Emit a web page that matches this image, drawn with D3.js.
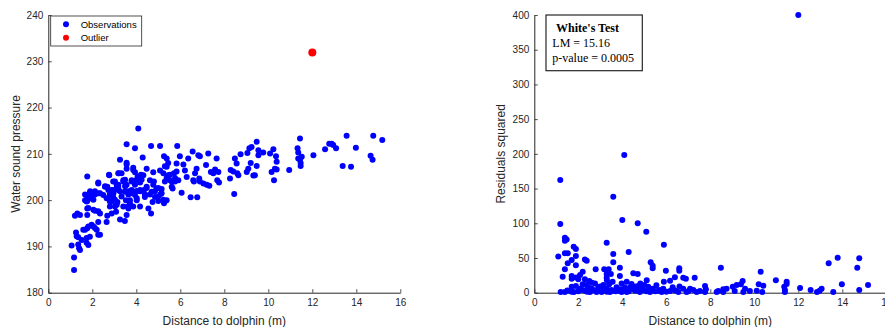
<!DOCTYPE html>
<html><head><meta charset="utf-8">
<script src="https://cdn.jsdelivr.net/npm/d3@7"></script>
<style>
html,body{margin:0;padding:0;background:#fff;}
svg{display:block;}
.tick text{font-family:"Liberation Sans",Arial,sans-serif;font-size:10px;fill:#262626;}
</style></head>
<body><svg id="c" width="885" height="327"></svg>
<script>
// Left panel: observations (distance m, water sound pressure)
const obsX = [1.17,1.17,1.06,1.44,1.40,1.21,1.32,1.44,1.26,1.36,1.52,1.74,1.82,1.89,1.67,1.77,2.05,2.20,2.27,2.35,2.27,2.35,2.12,1.77,1.77,1.67,1.77,1.82,1.89,1.77,2.05,2.05,2.27,2.27,2.50,2.58,2.68,2.77,2.65,2.68,2.88,2.80,2.80,2.95,2.95,3.03,3.03,3.08,3.14,3.18,3.18,3.26,3.26,3.48,3.33,3.41,3.48,3.53,3.56,3.56,3.56,3.56,3.61,3.64,3.56,3.71,3.79,3.79,3.86,3.86,3.94,3.94,4.02,4.02,4.06,4.09,4.17,4.17,4.29,4.32,4.35,4.39,4.47,4.47,4.55,4.62,4.67,4.67,4.70,4.74,4.77,4.80,4.85,4.92,5.00,5.08,5.08,5.11,5.15,5.23,5.26,5.23,5.26,5.30,5.38,5.38,5.38,5.45,5.53,5.61,5.65,5.71,5.76,5.83,5.86,5.91,5.98,6.06,6.14,6.21,6.29,6.36,6.47,6.56,6.59,6.62,6.67,6.74,6.77,6.82,6.86,6.89,6.89,7.05,7.17,7.20,7.27,7.32,7.39,7.50,7.58,7.65,7.68,7.73,7.76,8.26,8.29,8.41,8.45,8.48,8.56,8.59,8.64,8.74,9.02,9.05,9.09,9.14,9.20,9.24,9.32,9.39,9.47,9.47,9.55,9.55,9.77,10.08,10.15,10.23,10.26,10.30,10.35,10.38,10.38,10.95,11.33,11.36,11.36,11.44,11.44,11.47,11.47,11.52,12.05,12.58,12.77,12.88,12.95,13.08,13.38,13.56,13.76,13.98,14.65,14.74,14.77,15.18,
2.65,2.80,2.88,3.03,2.96,3.18,3.11,3.33,3.41,3.49,3.64,3.71,3.79,3.94,4.02,4.17,4.24,4.39,4.47,4.62,4.77,4.85,5.00,5.00,5.15,5.38,5.53,5.61,5.76,5.83,5.30,5.45,3.41,3.18,3.11,2.73,2.35,2.12,1.90,1.74,1.82,2.05,2.27,1.97,2.12,1.82,1.59,1.74,1.36,1.29,
3.56,3.86,3.21,2.76,3.94,4.21,2.27,2.95,3.49,3.79,4.02,2.58,1.90,2.12,1.67,1.74,2.88,3.11,3.26,3.64,4.17,2.88,2.80];
const obsY = [184.9,187.6,190.2,189.2,189.6,196.6,197.1,196.8,193.0,192.0,191.4,190.8,190.3,192.1,193.6,193.9,194.3,193.6,192.5,192.5,195.3,197.1,197.7,198.2,196.8,200.0,199.8,201.1,201.5,205.1,200.1,201.1,201.5,203.6,201.1,202.9,202.9,205.4,195.3,196.6,197.1,198.6,200.0,200.7,202.2,204.0,198.6,197.5,199.6,202.9,205.8,208.7,195.8,195.5,205.8,204.3,201.8,200.0,203.3,206.8,207.7,212.1,198.6,198.2,196.8,200.0,201.5,204.3,206.5,198.6,201.1,211.2,200.0,202.0,205.1,215.5,198.6,203.8,209.2,205.4,202.2,200.7,206.8,202.9,198.2,204.3,211.7,197.1,201.8,199.6,206.0,204.0,200.7,202.5,199.8,211.7,206.4,201.3,202.4,200.1,199.3,205.8,209.5,204.0,209.0,207.2,200.0,205.4,204.3,202.9,202.5,205.8,204.0,207.9,211.7,204.3,209.5,201.6,207.7,206.4,205.0,209.0,200.6,210.5,204.3,204.0,205.8,206.8,200.6,209.7,204.7,204.0,209.5,203.6,207.6,203.3,210.1,203.1,206.1,205.8,206.6,209.0,204.3,206.1,203.8,204.7,206.5,206.2,201.3,209.0,207.9,205.8,205.4,209.9,206.1,210.2,206.8,211.2,208.0,211.5,205.3,205.4,212.6,207.4,210.8,209.7,210.3,210.1,206.1,211.0,204.3,206.8,209.5,208.3,206.6,206.5,211.2,210.3,209.0,213.3,208.7,208.0,207.4,209.4,209.7,211.0,212.2,212.2,211.9,211.2,207.4,213.9,207.2,211.3,209.6,208.7,213.9,213.0,
200.4,201.2,199.7,200.1,201.5,202.2,199.0,200.8,198.6,203.0,201.2,199.4,202.2,203.3,200.4,202.2,204.4,201.2,202.6,201.2,203.3,201.9,200.8,202.6,201.5,204.8,205.5,204.0,204.8,206.2,207.3,208.0,204.0,203.3,203.3,202.2,201.5,201.2,200.4,199.7,198.3,197.9,197.6,194.7,194.0,194.3,193.6,191.8,190.4,192.2,
208.1,207.0,205.8,205.5,206.0,205.5,203.8,204.0,204.4,204.0,204.4,203.0,201.9,201.9,201.2,200.1,202.2,202.6,201.9,201.9,201.9,200.8,199.7];
const outlierX = [12.0];
const outlierY = [231.9];

// Right panel: squared residuals
const resX = [12.0,4.09,1.18,3.59,4.0,4.7,1.18,5.09,3.29,5.89,1.39,1.47,1.39,1.79,1.89,3.59,4.29,1.09,1.39,1.52,1.89,1.7,2.3,2.38,1.52,1.89,3.59,5.29,5.38,5.38,13.79,14.77,13.38,14.68,8.48,1.39,2.79,3.18,3.89,3.38,5.98,6.59,6.59,10.29,2.2,3.29,3.48,4.5,4.7,1.7,1.29,2.08,3.89,3.29,6.39,6.77,6.89,7.29,10.98,5.11,2.3,1.7,2.0,5.89,6.17,2.62,3.56,4.2,9.47,11.47,11.47,13.98,15.17,10.2,10.41,9.2,9.39,9.02,11.36,12.08,13.06,12.56,12.97,12.85,13.59,14.77,11.39,11.39,10.11,9.8,8.74,8.59,8.36,8.29,7.76,7.8,7.53,7.23,7.08,6.77,6.55,6.29,5.86,5.64,5.38,5.18,4.95,4.73,4.58,4.35,4.12,3.97,3.74,3.52,3.29,3.06,2.91,2.68,2.45,2.3,2.08,1.89,1.8,1.62,1.39,1.2,2.38,2.76,3.14,3.97,4.42,4.82,5.55,1.7,2.53,2.83,3.44,3.82,4.2,4.8,5.26,5.79,6.17,6.92,7.38,7.76,8.59,9.11,9.5,9.58,10.36,
1.5,1.7,2.0,2.2,2.4,2.6,2.9,3.1,3.3,3.5,3.7,3.9,4.1,4.3,4.5,4.7,4.9,5.1,5.3,5.5,5.7,6.0,6.4,6.6,7.0,2.2,3.0,3.4,4.6,5.0,1.9,2.5,3.3];
const resY = [400,198.3,162.3,138.3,104.7,99.9,98.9,87.9,72.0,69.2,79.2,76.8,74.9,66.3,62.9,55.7,58.6,52.3,56.7,56.7,52.8,47.1,48.0,46.1,42.3,39.4,43.7,43.7,38.9,35.1,50.4,49.5,42.3,36.0,36.0,33.6,33.6,33.6,36.0,33.6,31.7,35.1,31.7,30.3,30.3,26.9,26.9,27.9,26.9,24.0,23.0,25.5,24.0,21.6,22.1,21.6,20.2,21.6,17.8,17.8,19.2,20.2,19.2,15.8,17.3,14.4,15.8,15.8,16.8,15.8,12.5,12.0,11.0,12.0,10.1,11.0,12.0,8.6,8.6,6.7,5.8,3.8,2.9,1.0,1.0,3.8,3.8,1.0,2.9,2.4,5.8,4.8,2.4,1.0,9.6,4.8,2.4,3.8,5.8,5.8,1.0,7.7,5.8,2.9,5.8,8.6,3.8,9.6,2.9,7.7,3.8,1.0,7.7,2.9,5.8,1.0,7.7,3.8,7.7,2.9,5.8,9.6,1.0,2.9,1.0,1.0,11.0,13.4,11.0,13.4,12.5,13.4,10.6,8.6,1.0,1.0,1.0,2.9,1.0,1.0,1.0,1.0,2.4,1.0,1.0,1.0,1.0,2.4,1.0,5.8,1.0,
3,1.5,2,4,1.5,6,3,5,1.5,4,2,5,8,2,5,3,6,2,4,2,4,1.5,3,9,2,12,9,12,9,11,22,17,18];

const xTicks = [0,2,4,6,8,10,12,14,16];
const yTicksL = [180,190,200,210,220,230,240];
const yTicksR = [0,50,100,150,200,250,300,350,400];
const legendLabels = ["Observations","Outlier"];
const boxLines = ["White's Test","LM = 15.16","p-value = 0.0005"];

const svg = d3.select("#c");
const AX = "#262626";
const plotTop = 15, plotBottom = 292.7;

function panel(x0, yDomain, yTicks, ylabel, ylabX) {
  const x = d3.scaleLinear().domain([0,16]).range([x0, x0 + 352]);
  const y = d3.scaleLinear().domain(yDomain).range([plotBottom, plotTop]);
  const gx = svg.append("g").attr("transform", `translate(0,${plotBottom})`)
    .call(d3.axisBottom(x).tickValues(xTicks).tickSizeInner(-3.5).tickSizeOuter(0).tickPadding(6.5));
  const gy = svg.append("g").attr("transform", `translate(${x0},0)`)
    .call(d3.axisLeft(y).tickValues(yTicks).tickSizeInner(-3.5).tickSizeOuter(0).tickPadding(5));
  [gx, gy].forEach(g => {
    g.select(".domain").attr("stroke", AX).attr("stroke-width", 1);
    g.selectAll(".tick line").attr("stroke", AX).attr("stroke-width", 0.8);
  });
  svg.append("text").attr("x", x0 + 176).attr("y", 324.5).attr("text-anchor", "middle")
    .attr("font-family", "Liberation Sans, Arial, sans-serif").attr("font-size", 12).attr("fill", AX)
    .text("Distance to dolphin (m)");
  svg.append("text").attr("transform", `translate(${ylabX},${(plotTop+plotBottom)/2}) rotate(-90)`)
    .attr("text-anchor", "middle")
    .attr("font-family", "Liberation Sans, Arial, sans-serif").attr("font-size", 12).attr("fill", AX)
    .text(ylabel);
  return {x, y};
}

// Left panel
const L = panel(48.3, [180,240], yTicksL, "Water sound pressure", 19.5);
svg.append("g").selectAll("circle").data(d3.range(obsX.length)).join("circle")
  .attr("cx", i => L.x(obsX[i])).attr("cy", i => L.y(obsY[i])).attr("r", 3).attr("fill", "#0000ff");
svg.append("g").selectAll("circle").data(d3.range(outlierX.length)).join("circle")
  .attr("cx", i => L.x(outlierX[i])).attr("cy", i => L.y(outlierY[i])).attr("r", 4).attr("fill", "#ff0000");

// Legend
const lg = svg.append("g");
lg.append("rect").attr("x", 50.7).attr("y", 16).attr("width", 91).attr("height", 30)
  .attr("fill", "#fff").attr("stroke", AX).attr("stroke-width", 0.8);
const legColors = ["#0000ff", "#ff0000"];
legendLabels.forEach((t, i) => {
  const yy = 24.3 + i * 13.4;
  lg.append("circle").attr("cx", 66).attr("cy", yy).attr("r", 3).attr("fill", legColors[i]);
  lg.append("text").attr("x", 80.7).attr("y", yy + 3.3)
    .attr("font-family", "Liberation Sans, Arial, sans-serif").attr("font-size", 9.5).attr("fill", "#000")
    .text(t);
});

// Right panel
const R = panel(534.3, [0,400], yTicksR, "Residuals squared", 505);
svg.append("g").selectAll("circle").data(d3.range(resX.length)).join("circle")
  .attr("cx", i => R.x(resX[i])).attr("cy", i => R.y(resY[i])).attr("r", 3).attr("fill", "#0000ff");

// Text box
const tb = svg.append("g");
tb.append("rect").attr("x", 546).attr("y", 15).attr("width", 96.3).attr("height", 55.7)
  .attr("fill", "#fff").attr("stroke", AX).attr("stroke-width", 1.2);
const boxX = [556, 552.3, 552.3], boxY = [32.3, 46.7, 61.5];
boxLines.forEach((t, i) => {
  tb.append("text").attr("x", boxX[i]).attr("y", boxY[i])
    .attr("font-family", "Liberation Serif, Times New Roman, serif").attr("font-size", 12)
    .attr("font-weight", i === 0 ? "bold" : "normal").attr("fill", "#000").text(t);
});
</script></body></html>
